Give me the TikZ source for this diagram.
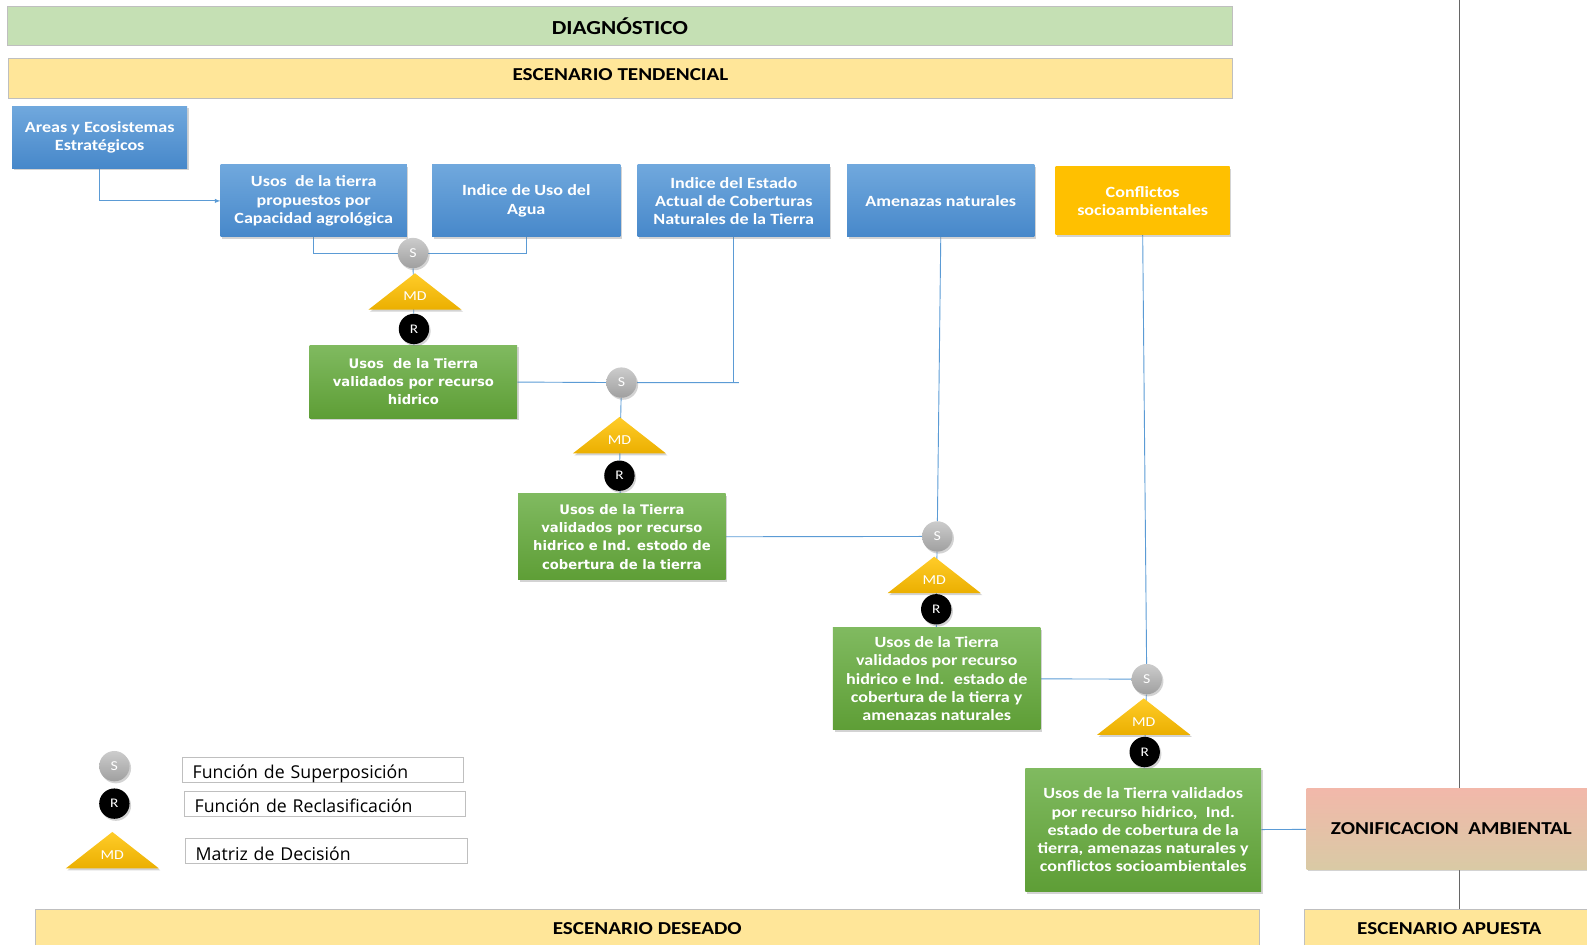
\documentclass[tikz,border=0pt]{standalone}
\usepackage{fontspec}
\setmainfont{Carlito}[FakeStretch=1.16]
\newfontfamily\verdfont{DejaVu Sans}
\newfontfamily\legfont{Open Sans}
\usetikzlibrary{arrows}
\usetikzlibrary{positioning}
\usetikzlibrary{shadows}
\usetikzlibrary{backgrounds}

\definecolor{linkblue}{HTML}{5B9BD5}
\definecolor{barline}{HTML}{BFBFBF}
\definecolor{diaggreen}{HTML}{C5E0B4}
\definecolor{scenyellow}{HTML}{FFE699}
\definecolor{bluetop}{HTML}{70A8DD}
\definecolor{bluebot}{HTML}{4788CA}
\definecolor{greentop}{HTML}{80BA60}
\definecolor{greenbot}{HTML}{5E9E36}
\definecolor{orangebox}{HTML}{FFC000}
\definecolor{goldtop}{HTML}{FFCC29}
\definecolor{goldbot}{HTML}{EBAF00}
\definecolor{zonatop}{HTML}{F2B8AA}
\definecolor{zonamid}{HTML}{F5E9D9}
\definecolor{zonabot}{HTML}{D9CAA5}

\begin{document}
\begin{tikzpicture}[x=1pt, y=-1pt,
	boxshadow/.style={drop shadow={opacity=0.35, shadow xshift=1.5pt, shadow yshift=-2pt}},
	barbox/.style={rectangle, draw=barline, line width=0.8pt, font=\bfseries\fontsize{18}{20}\selectfont},
	bluebox/.style={rectangle, top color=bluetop, bottom color=bluebot, text=white, align=center, boxshadow,
		font=\bfseries\fontsize{15.4}{18}\selectfont},
	greenbox/.style={rectangle, top color=greentop, bottom color=greenbot, text=white, align=center, boxshadow,
		font=\bfseries\fontsize{15.4}{18}\selectfont},
	sfun/.style={circle, minimum size=30, inner sep=0, top color=gray!40, bottom color=gray!75, text=white,
		boxshadow, font=\fontsize{13.5}{13.5}\selectfont},
	rfun/.style={circle, minimum size=30, inner sep=0, fill=black, text=white,
		boxshadow, font=\fontsize{13}{13}\selectfont},
	mdtext/.style={inner sep=0, text=white, font=\fontsize{13.5}{13.5}\selectfont},
	legbox/.style={rectangle, draw=barline, line width=0.8pt, anchor=west, minimum height=25, inner xsep=10,
		inner ysep=0, text height=18pt, text depth=0pt, align=left, font=\legfont\fontsize{17.5}{18}\selectfont},
	link/.style={draw=linkblue, line width=0.9pt}]

	\useasboundingbox (0,0) rectangle (1568,933);

	\draw[gray!80!black, line width=0.8pt] (1442,0) -- (1442,898);

	\draw (612.5,25.5) node[barbox, fill=diaggreen, minimum width=1211, minimum height=39,
		font=\bfseries\fontsize{19.7}{20}\selectfont] (diag) {DIAGNÓSTICO};
	\draw (613,77.5) node[barbox, fill=scenyellow, minimum width=1210, minimum height=39, text depth=8pt] (tend) {ESCENARIO TENDENCIAL};
	\draw (639.5,917) node[barbox, fill=scenyellow, minimum width=1209, minimum height=36] (deseado) {ESCENARIO DESEADO};
	\draw (1432,917) node[barbox, fill=scenyellow, minimum width=286, minimum height=36] (apuesta) {ESCENARIO APUESTA};

	\draw (98.5,135.5) node[bluebox, minimum width=173, minimum height=61] (areas) {Areas y Ecosistemas\\Estratégicos};
	\draw (310,198.5) node[bluebox, minimum width=184, minimum height=71] (usos) {Usos \ de la tierra\\propuestos por\\Capacidad agrológica};
	\draw (520,198.5) node[bluebox, minimum width=186, minimum height=71] (agua) {Indice de Uso del\\Agua};
	\draw (725,198.5) node[bluebox, minimum width=190, minimum height=71] (estado) {Indice del Estado\\Actual de Coberturas\\Naturales de la Tierra};
	\draw (929.5,198.5) node[bluebox, minimum width=185, minimum height=71] (amenazas) {Amenazas naturales};
	\draw (1129,198.5) node[bluebox, top color=orangebox, bottom color=orangebox, minimum width=172, minimum height=67] (conflictos) {Conflictos\\socioambientales};

	\draw (408.5,377) node[greenbox, minimum width=205, minimum height=72, font=\verdfont\bfseries\fontsize{13}{18}\selectfont] (v1)
		{Usos \ de la Tierra\\validados por recurso\\hidrico};
	\draw (614.5,530.5) node[greenbox, minimum width=205, minimum height=85, font=\verdfont\bfseries\fontsize{13}{18}\selectfont] (v2)
		{Usos de la Tierra\\validados por recurso\\hidrico e Ind. estodo de\\cobertura de la tierra};
	\draw (925.5,670.5) node[greenbox, minimum width=205, minimum height=101] (v3)
		{Usos de la Tierra\\validados por recurso\\hidrico e Ind. \ estado de\\cobertura de la tierra y\\amenazas naturales};
	\draw (1129.5,820) node[greenbox, minimum width=233, minimum height=122] (v4)
		{Usos de la Tierra validados\\por recurso hidrico, \ Ind.\\estado de cobertura de la\\tierra, amenazas naturales y\\conflictos socioambientales};

	\draw (1434,819) node[rectangle, minimum width=286, minimum height=80, boxshadow,
		top color=zonatop, middle color=zonamid, bottom color=zonabot,
		font=\bfseries\fontsize{18}{20}\selectfont] (zona) {ZONIFICACION \ AMBIENTAL};

	\foreach \n/\x/\y in {md1/410/270, md2/612/412, md3/923/550, md4/1130/690, lmd/111/822}{
		\shade[top color=goldtop, bottom color=goldbot, boxshadow] (\x-46,\y+36) -- (\x,\y) -- (\x+46,\y+36) -- cycle;
		\draw (\x,\y+23) node[mdtext] (\n) {MD};
	}
	\foreach \n/\x/\y in {s1/408/250, s2/614/378, s3/926/530, s4/1133/671, ls/113/757}{
		\draw (\x,\y) node[sfun] (\n) {S};
	}
	\foreach \n/\x/\y in {r1/409/325, r2/612/470, r3/925/602, r4/1131/743, lr/113/794}{
		\draw (\x,\y) node[rfun] (\n) {R};
	}

	\draw (180,760.5) node[legbox, minimum width=277, text width=257] (lsup) {Función de Superposición};
	\draw (182,794) node[legbox, minimum width=277, text width=257] (lrec) {Función de Reclasificación};
	\draw (183,841) node[legbox, minimum width=278, text width=258] (lmat) {Matriz de Decisión};

	\coordinate (e2) at (730,378);
	\begin{pgfonlayer}{background}
		\draw[link,-latex] (areas.south) |- (usos.west);
		\draw[link] (usos.south) |- (s1);
		\draw[link] (agua.south) |- (s1);
		\draw[link] (s1) -- (r1) -- (v1);
		\draw[link] (v1) -- (s2) -- (e2);
		\draw[link] (estado.south) -- (estado.south |- e2);
		\draw[link] (s2) -- (r2) -- (v2);
		\draw[link] (v2) -- (s3);
		\draw[link] (amenazas.south) -- (s3);
		\draw[link] (s3) -- (r3) -- (v3);
		\draw[link] (v3) -- (s4);
		\draw[link] (conflictos.south) -- (s4);
		\draw[link] (s4) -- (r4) -- (v4);
		\draw[link] (v4) -- (zona);
	\end{pgfonlayer}

\end{tikzpicture}
\end{document}
